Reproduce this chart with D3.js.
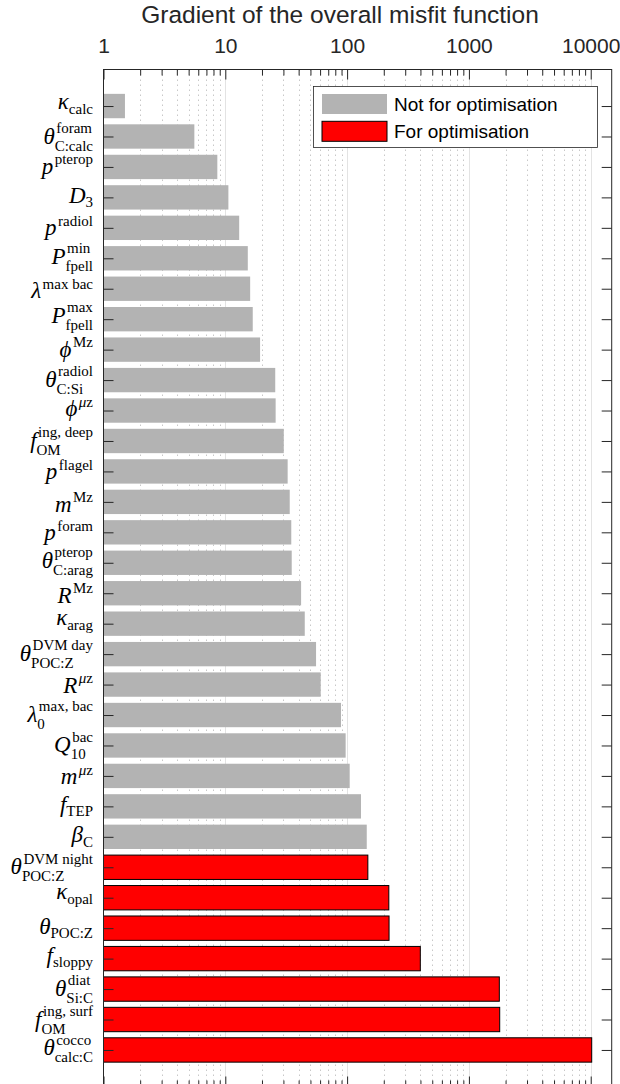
<!DOCTYPE html>
<html>
<head>
<meta charset="utf-8">
<script src="https://cdn.jsdelivr.net/npm/d3@7"></script>
<style>
  body { margin: 0; background: #fff; }
</style>
</head>
<body>
<svg id="chart" width="620" height="1084"></svg>
<script>
// label pieces: main symbol, superscript, subscript
var symbols = ["κ", "θ", "p", "D", "p", "P", "λ", "P", "ϕ", "θ",
               "ϕ", "f", "p", "m", "p", "θ", "R", "κ", "θ", "R",
               "λ", "Q", "m", "f", "β", "θ", "κ", "θ", "f", "θ",
               "f", "θ"];
var sups = ["", "foram", "pterop", "", "radiol", "min", "max bac", "max", "Mz", "radiol",
            "μz", "ing, deep", "flagel", "Mz", "foram", "pterop", "Mz", "", "DVM day", "μz",
            "max, bac", "bac", "μz", "", "", "DVM night", "", "", "", "diat",
            "ing, surf", "cocco"];
var subs = ["calc", "C:calc", "", "3", "", "fpell", "", "fpell", "", "C:Si",
            "", "OM", "", "", "", "C:arag", "", "arag", "POC:Z", "",
            "0", "10", "", "TEP", "C", "POC:Z", "opal", "POC:Z", "sloppy", "Si:C",
            "OM", "calc:C"];
var values = [1.50, 5.57, 8.6, 10.6, 13.0, 15.3, 16.0, 16.8, 19.3, 25.7,
              25.9, 30.2, 32.5, 33.8, 34.8, 35.1, 41.9, 44.9, 55.6, 60.7,
              89.1, 97.3, 105, 130, 145, 148, 220, 221, 399, 1777,
              1790, 10190];
var forOptimisation = [0, 0, 0, 0, 0, 0, 0, 0, 0, 0,
                       0, 0, 0, 0, 0, 0, 0, 0, 0, 0,
                       0, 0, 0, 0, 0, 1, 1, 1, 1, 1,
                       1, 1];
var xTicks = [1, 10, 100, 1000, 10000];
var legendLabels = ["Not for optimisation", "For optimisation"];
var titleText = "Gradient of the overall misfit function";

var svg = d3.select("#chart");
var plotLeft = 103.5, plotRight = 611.7, plotTop = 69.5, plotBottom = 1086.5;
var axisColor = "#262626";
var sansFont = "'Liberation Sans', Arial, Helvetica, sans-serif";
var serifFont = "'Liberation Serif', 'Times New Roman', serif";

var x = d3.scaleLog().domain([1, 14870]).range([plotLeft, plotRight]);
var idx = d3.range(1, values.length + 1);
var y = d3.scaleLinear().domain([-0.2, values.length + 1.2]).range([plotTop, plotBottom]);
var step = y(2) - y(1);

// grid
var minors = [];
for (var d = 1; d < 100000; d *= 10) {
    for (var k = 2; k <= 9; k++) {
        if (d * k < x.domain()[1]) minors.push(d * k);
    }
}
svg.append("g").selectAll("line").data(minors).enter().append("line")
    .attr("x1", function(v) { return Math.round(x(v)) + 0.5; })
    .attr("x2", function(v) { return Math.round(x(v)) + 0.5; })
    .attr("y1", plotTop).attr("y2", plotBottom)
    .style("stroke", "#c8c8c8")
    .style("stroke-dasharray", "1.5,3.5");
svg.append("g").selectAll("line").data(xTicks.slice(1)).enter().append("line")
    .attr("x1", function(v) { return Math.round(x(v)) + 0.5; })
    .attr("x2", function(v) { return Math.round(x(v)) + 0.5; })
    .attr("y1", plotTop).attr("y2", plotBottom)
    .style("stroke", "#e3e3e3");

// bars
svg.append("g").selectAll("rect").data(idx).enter().append("rect")
    .attr("x", plotLeft)
    .attr("y", function(i) { return y(i) - step * 0.4; })
    .attr("width", function(i) { return x(values[i - 1]) - plotLeft; })
    .attr("height", step * 0.8)
    .style("fill", function(i) { return forOptimisation[i - 1] ? "#ff0000" : "#b3b3b3"; })
    .style("stroke", function(i) { return forOptimisation[i - 1] ? "#000" : "none"; })
    .style("stroke-width", 1);

// axes (ticks inward)
function styleAxis(g) {
    g.select(".domain").remove();
    g.selectAll(".tick line").style("stroke", axisColor);
}
svg.append("g").attr("transform", "translate(0," + plotTop + ")")
    .call(d3.axisTop(x).tickValues(xTicks).tickSize(-10).tickFormat(d3.format("d")))
    .call(styleAxis)
    .call(function(g) {
        g.selectAll(".tick text").attr("y", -17)
            .style("font-family", sansFont).style("font-size", "21px").style("fill", axisColor);
    });
svg.append("g").attr("transform", "translate(0," + plotTop + ")")
    .call(d3.axisTop(x).tickValues(minors).tickSize(-6).tickFormat(""))
    .call(styleAxis);
svg.append("g").attr("transform", "translate(0," + plotBottom + ")")
    .call(d3.axisBottom(x).tickValues(xTicks).tickSize(-10).tickFormat(""))
    .call(styleAxis);
svg.append("g").attr("transform", "translate(0," + plotBottom + ")")
    .call(d3.axisBottom(x).tickValues(minors).tickSize(-6).tickFormat(""))
    .call(styleAxis);
svg.append("g").attr("transform", "translate(" + plotLeft + ",0)")
    .call(d3.axisLeft(y).tickValues(idx).tickSize(-10).tickFormat(""))
    .call(styleAxis);
svg.append("g").attr("transform", "translate(" + plotRight + ",0)")
    .call(d3.axisRight(y).tickValues(idx).tickSize(-10).tickFormat(""))
    .call(styleAxis);

svg.append("rect")
    .attr("x", plotLeft).attr("y", plotTop)
    .attr("width", plotRight - plotLeft).attr("height", plotBottom - plotTop)
    .style("fill", "none").style("stroke", axisColor).style("stroke-width", 1);

// title
svg.append("text")
    .attr("x", 340).attr("y", 23)
    .attr("text-anchor", "middle")
    .style("font-family", sansFont).style("font-size", "24.5px").style("fill", axisColor)
    .text(titleText);

// math labels
var ctx = document.createElement("canvas").getContext("2d");
var greek = /[α-ωϕ]/;

function runs(str) {
    var out = [];
    for (var c = 0; c < str.length; c++) {
        var it = greek.test(str[c]);
        if (out.length && out[out.length - 1].italic === it) out[out.length - 1].t += str[c];
        else out.push({ t: str[c], italic: it });
    }
    return out;
}

function drawPart(g, str, px, py, size, allItalic) {
    var r = runs(str), w = 0, asc = 0, desc = 0;
    var t = g.append("text").attr("x", px).attr("y", py)
        .style("font-family", serifFont).style("font-size", size + "px").style("fill", "#000")
        .style("white-space", "pre");
    r.forEach(function(p) {
        var it = allItalic || p.italic;
        t.append("tspan").style("font-style", it ? "italic" : "normal").text(p.t);
        ctx.font = (it ? "italic " : "") + size + "px " + serifFont;
        var m = ctx.measureText(p.t);
        w += m.width;
        asc = Math.max(asc, m.actualBoundingBoxAscent);
        desc = Math.max(desc, m.actualBoundingBoxDescent);
    });
    return { w: w, top: py - asc, bottom: py + desc };
}

var labelLayer = svg.append("g");
idx.forEach(function(i) {
    var g = labelLayer.append("g");
    var main = drawPart(g, symbols[i - 1], 0, 0, 23, true);
    var tops = [main.top], bottoms = [main.bottom], widths = [main.w];
    var sup = sups[i - 1], sub = subs[i - 1];
    if (sup) {
        var ps = drawPart(g, sup, main.w + 1.5, sub ? -10.5 : -9.5, 15, false);
        tops.push(ps.top); bottoms.push(ps.bottom); widths.push(main.w + 1.5 + ps.w);
    }
    if (sub) {
        var pb = drawPart(g, sub, main.w, sup ? 7 : 4.5, 15, false);
        tops.push(pb.top); bottoms.push(pb.bottom); widths.push(main.w + pb.w);
    }
    var wTot = d3.max(widths);
    var mid = (d3.min(tops) + d3.max(bottoms)) / 2;
    g.attr("transform", "translate(" + (93 - wTot) + "," + (y(i) - mid) + ")");
});

// legend
var lg = svg.append("g");
lg.append("rect").attr("x", 313.5).attr("y", 86.5).attr("width", 284).attr("height", 61)
    .style("fill", "#fff").style("stroke", axisColor).style("stroke-width", 0.8);
legendLabels.forEach(function(lbl, j) {
    var ly = 94 + j * 27.3;
    lg.append("rect").attr("x", 322).attr("y", ly).attr("width", 65).attr("height", 20)
        .style("fill", j ? "#ff0000" : "#b3b3b3")
        .style("stroke", j ? "#000" : "none");
    lg.append("text").attr("x", 394).attr("y", ly + 17)
        .style("font-family", sansFont).style("font-size", "19px").style("fill", "#000")
        .text(lbl);
});
</script>
</body>
</html>
